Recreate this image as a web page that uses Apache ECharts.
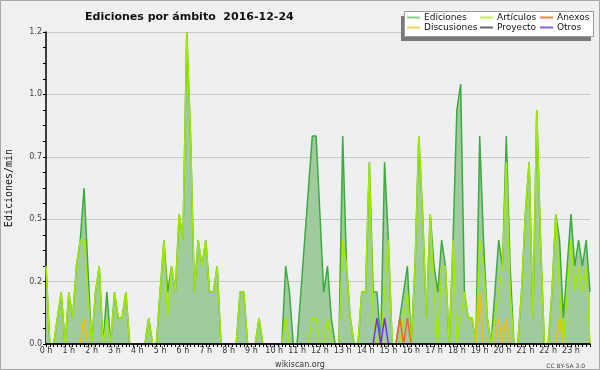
<!DOCTYPE html>
<html><head><meta charset="utf-8">
<script src="https://cdn.jsdelivr.net/npm/echarts@6/dist/echarts.min.js"></script>
<style>html,body{margin:0;padding:0;background:#f0f0f0}#c{width:600px;height:370px}</style>
</head><body><div id="c"></div>
<script>
const hourLabels = ['0 h','1 h','2 h','3 h','4 h','5 h','6 h','7 h','8 h','9 h','10 h','11 h','12 h','13 h','14 h','15 h','16 h','17 h','18 h','19 h','20 h','21 h','22 h','23 h'];
const minuteSteps = ['00','10','20','30','40','50'];
const categories = [];
for (let h = 0; h < 24; h++) for (const m of minuteSteps) categories.push(h + ':' + m);

const ediciones = [
0.3,0,0,0.1,0.2,0,  0.2,0.1,0.3,0.4,0.6,0.3,  0,0.2,0.3,0,0.2,0,  0.2,0.1,0.1,0.2,0,0,
0,0,0,0.1,0,0,  0.2,0.4,0.2,0.3,0.2,0.5,  0.4,1.2,0.8,0.2,0.4,0.3,  0.4,0.2,0.2,0.3,0,0,
0,0,0,0.2,0.2,0,  0,0,0.1,0,0,0,  0,0,0,0.3,0.2,0,  0,0.2,0.4,0.6,0.8,0.8,
0.5,0.2,0.3,0.1,0,0,  0.8,0.3,0.1,0,0,0.2,  0.2,0.7,0.2,0.2,0,0.7,  0.4,0,0,0.1,0.2,0.3,
0,0.3,0.8,0.5,0.1,0.5,  0.3,0.2,0.4,0.3,0,0.4,  0.9,1.0,0.2,0.1,0.1,0,  0.8,0.4,0.1,0,0.2,0.4,
0.3,0.8,0.3,0,0,0.2,  0.5,0.7,0.1,0.9,0.4,0,  0,0.2,0.5,0.4,0.1,0.3,  0.5,0.3,0.4,0.3,0.4,0.2
];
const articulos = [
0.3,0,0,0.1,0.2,0,  0.2,0.1,0.3,0.4,0.4,0.2,  0,0.2,0.3,0,0.1,0,  0.2,0.1,0.1,0.2,0,0,
0,0,0,0.1,0,0,  0.2,0.4,0.1,0.3,0.2,0.5,  0.4,1.2,0.8,0.2,0.4,0.3,  0.4,0.2,0.2,0.3,0,0,
0,0,0,0.2,0.2,0,  0,0,0.1,0,0,0,  0,0,0,0.1,0,0,  0,0,0,0,0.1,0.1,
0,0,0.1,0,0,0,  0.4,0.3,0.1,0,0,0.2,  0.2,0.7,0.1,0,0,0.2,  0.4,0,0,0,0.1,0.2,
0,0.3,0.8,0.5,0.1,0.5,  0.2,0,0.3,0.3,0,0.4,  0,0.1,0.2,0.1,0.1,0,  0.4,0.3,0.1,0,0.1,0.2,
0.3,0.7,0.2,0,0,0.2,  0.5,0.7,0.1,0.9,0.4,0,  0,0.2,0.5,0.2,0,0.2,  0.4,0.2,0.3,0.2,0.3,0
];
const anexos = [
0,0,0,0,0,0,  0,0,0,0,0,0,  0,0,0,0,0,0,  0,0,0,0,0,0,
0,0,0,0,0,0,  0,0,0,0,0,0,  0,0,0,0,0,0,  0,0,0,0,0,0,
0,0,0,0,0,0,  0,0,0,0,0,0,  0,0,0,0,0,0,  0,0,0,0,0,0,
0,0,0,0,0,0,  0,0,0,0,0,0,  0,0,0,0,0,0,  0,0,0,0.1,0,0.1,
0,0,0,0,0,0,  0,0,0,0,0,0,  0,0,0,0,0,0,  0,0,0,0,0,0,
0,0,0,0,0,0,  0,0,0,0,0,0,  0,0,0,0,0,0,  0,0,0,0,0,0
];
const discusiones = [
0,0,0,0,0,0,  0,0,0,0,0.1,0,  0,0,0,0,0,0,  0,0,0,0,0,0,
0,0,0,0,0,0,  0,0,0,0,0,0,  0,0,0,0,0,0,  0,0,0,0,0,0,
0,0,0,0,0,0,  0,0,0,0,0,0,  0,0,0,0,0,0,  0,0,0,0,0,0,
0,0,0,0,0,0,  0,0,0,0,0,0,  0,0,0,0,0,0,  0,0,0,0,0,0,
0,0,0,0,0,0,  0,0,0,0,0,0,  0,0,0,0,0,0,  0.2,0,0,0,0,0.1,
0,0.1,0,0,0,0,  0,0,0,0,0,0,  0,0,0,0.1,0,0,  0,0,0,0,0,0
];
const proyecto = [
0,0,0,0,0,0,  0,0,0,0,0,0,  0,0,0,0,0,0,  0,0,0,0,0,0,
0,0,0,0,0,0,  0,0,0,0,0,0,  0,0,0,0,0,0,  0,0,0,0,0,0,
0,0,0,0,0,0,  0,0,0,0,0,0,  0,0,0,0,0,0,  0,0,0,0,0,0,
0,0,0,0,0,0,  0,0,0,0,0,0,  0,0,0,0,0,0,  0,0,0,0,0,0,
0,0,0,0,0,0,  0,0,0,0,0,0,  0,0,0,0,0,0,  0,0,0,0,0,0,
0,0,0,0,0,0,  0,0,0,0,0,0,  0,0,0,0,0,0,  0,0,0,0,0,0
];
const otros = [
0,0,0,0,0,0,  0,0,0,0,0,0,  0,0,0,0,0,0,  0,0,0,0,0,0,
0,0,0,0,0,0,  0,0,0,0,0,0,  0,0,0,0,0,0,  0,0,0,0,0,0,
0,0,0,0,0,0,  0,0,0,0,0,0,  0,0,0,0,0,0,  0,0,0,0,0,0,
0,0,0,0,0,0,  0,0,0,0,0,0,  0,0,0,0.1,0,0.1,  0,0,0,0,0,0,
0,0,0,0,0,0,  0,0,0,0,0,0,  0,0,0,0,0,0,  0,0,0,0,0,0,
0,0,0,0,0,0,  0,0,0,0,0,0,  0,0,0,0,0,0,  0,0,0,0,0,0
];

const FONT = 'DejaVu Sans';
const chart = echarts.init(document.getElementById('c'));
function lineSeries(name, data, color, z, extra) {
  return Object.assign({
    name, type: 'line', data, symbol: 'none', z,
    lineStyle: { color, width: 1.5 },
    itemStyle: { color }, emphasis: { disabled: true }
  }, extra || {});
}
const legendCommon = {
  orient: 'vertical', top: 13, padding: 0, itemGap: 1,
  itemWidth: 13, itemHeight: 2, icon: 'rect', selectedMode: false,
  textStyle: { fontFamily: FONT, fontSize: 9, color: '#111', padding: [0, 0, 0, -1] }
};
chart.setOption({
  animation: false,
  backgroundColor: '#f0f0f0',
  title: [
    { text: 'Ediciones por ámbito  2016-12-24', left: 80, top: 7,
      textStyle: { fontFamily: FONT, fontSize: 11, fontWeight: 'bold', color: '#111' } },
    { text: 'wikiscan.org', left: 'center', top: 356,
      textStyle: { fontFamily: FONT, fontSize: 8, fontWeight: 'normal', color: '#333' } },
    { text: 'CC BY-SA 3.0', right: 10, top: 358,
      textStyle: { fontFamily: FONT, fontSize: 6, fontWeight: 'normal', color: '#444' } }
  ],
  graphic: [
    { type: 'rect', z: -1, silent: true, shape: { x: 0.5, y: 0.5, width: 599, height: 369 },
      style: { fill: 'none', stroke: '#a8a8a8', lineWidth: 1 } },
    { type: 'rect', z: 20, silent: true, shape: { x: 401, y: 16, width: 190, height: 25 },
      style: { fill: '#7a7a7a' } },
    { type: 'rect', z: 21, silent: true, shape: { x: 404.5, y: 11.5, width: 189, height: 25 },
      style: { fill: '#ffffff', stroke: '#9a9a9a', lineWidth: 1 } }
  ],
  legend: [
    Object.assign({}, legendCommon, { left: 407, z: 30,
      data: [{ name: 'Ediciones', itemStyle: { color: '#88cc88' } }, { name: 'Discusiones', itemStyle: { color: '#f8d050' } }] }),
    Object.assign({}, legendCommon, { left: 480, z: 30,
      data: [{ name: 'Artículos', itemStyle: { color: '#c4f050' } }, { name: 'Proyecto', itemStyle: { color: '#666666' } }] }),
    Object.assign({}, legendCommon, { left: 540, z: 30,
      data: [{ name: 'Anexos', itemStyle: { color: '#f58050' } }, { name: 'Otros', itemStyle: { color: '#9060f0' } }] })
  ],
  grid: { left: 46, right: 10, top: 32, bottom: 26, show: true, backgroundColor: '#eeeff1', borderWidth: 0,
    containLabel: false, outerBoundsMode: 'none' },
  xAxis: {
    type: 'category', data: categories, boundaryGap: false, z: 10,
    axisLine: { lineStyle: { color: '#000', width: 1.5 } },
    axisTick: { interval: 0, length: 3, lineStyle: { color: '#000', width: 1 } },
    axisLabel: {
      interval: 0, margin: 3, fontFamily: FONT, fontSize: 8, color: '#333',
      formatter: (v, i) => (i % 6 === 0 ? hourLabels[i / 6] : '')
    },
    splitLine: { show: false }
  },
  yAxis: {
    type: 'value', min: 0, max: 1.2, interval: 0.24,
    name: 'Ediciones/min', nameLocation: 'middle', nameGap: 32, nameRotate: 90,
    nameTextStyle: { fontFamily: 'DejaVu Sans Mono', fontSize: 10, color: '#111' },
    axisLine: { show: true, lineStyle: { color: '#000', width: 1.5 } },
    axisTick: { show: true, length: 3, lineStyle: { color: '#000' } },
    minorTick: { show: true, splitNumber: 4, length: 3, lineStyle: { color: '#000' } },
    axisLabel: { margin: 4, fontFamily: FONT, fontSize: 8, color: '#444',
      formatter: v => v.toFixed(1) },
    splitLine: { show: true, lineStyle: { color: '#c8c8c8', width: 1 } }
  },
  series: [
    lineSeries('Ediciones', ediciones, '#3cab3c', 2,
      { areaStyle: { color: '#9fcb9f', opacity: 1 } }),
    lineSeries('Proyecto', proyecto, '#555555', 3),
    lineSeries('Artículos', articulos, '#a4e800', 4),
    lineSeries('Discusiones', discusiones, '#f2c000', 5),
    lineSeries('Anexos', anexos, '#f26522', 6),
    lineSeries('Otros', otros, '#7a2cf0', 7)
  ]
});
</script></body></html>
